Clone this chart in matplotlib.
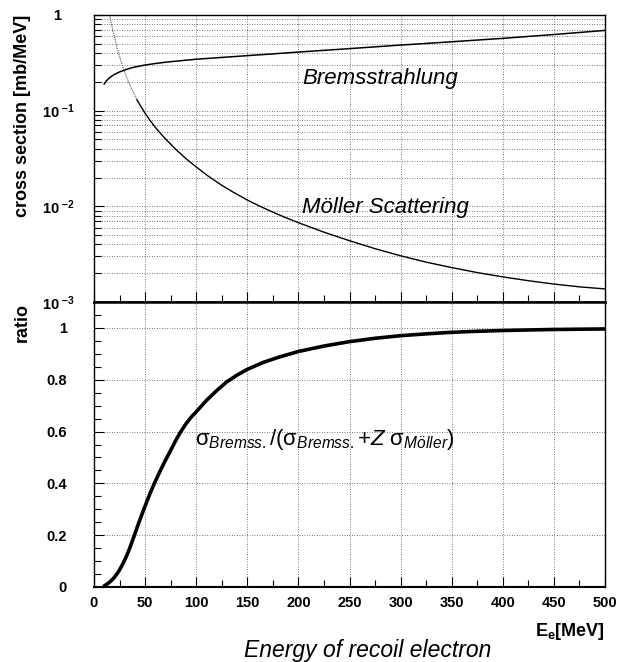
import matplotlib
matplotlib.use('Agg')
import matplotlib.pyplot as plt
from matplotlib.ticker import FixedLocator, FixedFormatter, MultipleLocator, NullFormatter, LogLocator
import numpy as np

plt.rcParams['font.family'] = ['Liberation Sans', 'DejaVu Sans']
plt.rcParams['mathtext.fontset'] = 'custom'
plt.rcParams['mathtext.rm'] = 'Liberation Sans'
plt.rcParams['mathtext.it'] = 'Liberation Sans:italic'
plt.rcParams['mathtext.bf'] = 'Liberation Sans:bold'

# ---------------- data ----------------
E_brems = [10, 12, 14, 17, 20, 25, 30, 35, 40, 50, 60, 70, 80, 90, 100, 125, 150,
           175, 200, 250, 300, 350, 400, 450, 500]
sigma_brems = [0.19, 0.204, 0.215, 0.228, 0.239, 0.254, 0.266, 0.277, 0.286, 0.30,
               0.311, 0.321, 0.329, 0.337, 0.345, 0.36, 0.376, 0.392, 0.41, 0.445,
               0.485, 0.525, 0.57, 0.625, 0.69]

E_moller = [15, 17, 19, 21, 23, 25, 27, 29, 32, 35, 38, 42, 46, 50, 55, 60, 65, 70,
            80, 90, 100, 112, 125, 137, 150, 162, 175, 187, 200, 225, 250, 275, 300,
            325, 350, 375, 400, 425, 450, 475, 500]
sigma_moller = [1.044, 0.813, 0.651, 0.533, 0.440, 0.368, 0.314, 0.271, 0.223, 0.187,
                0.159, 0.130, 0.110, 0.094, 0.0787, 0.0669, 0.058, 0.0506, 0.0394,
                0.0315, 0.0258, 0.0206, 0.0166, 0.0139, 0.01164, 0.01006, 0.00869,
                0.00766, 0.00675, 0.00537, 0.00437, 0.00361, 0.00304, 0.00261,
                0.00229, 0.00203, 0.00183, 0.00167, 0.00154, 0.00144, 0.00137]

E_ratio = [10, 13, 16, 19, 22, 25, 28, 31, 34, 37, 40, 44, 48, 52, 56, 60, 65, 70,
           75, 80, 85, 90, 95, 100, 110, 120, 130, 140, 150, 165, 180, 200, 225, 250,
           275, 300, 325, 350, 375, 400, 425, 450, 475, 500]
ratio = [0.004, 0.012, 0.021, 0.033, 0.048, 0.066, 0.088, 0.112, 0.140, 0.172, 0.205,
         0.250, 0.292, 0.333, 0.372, 0.408, 0.450, 0.490, 0.527, 0.566, 0.600, 0.630,
         0.655, 0.676, 0.720, 0.758, 0.792, 0.818, 0.840, 0.866, 0.886, 0.909, 0.930,
         0.947, 0.960, 0.970, 0.977, 0.983, 0.987, 0.990, 0.992, 0.994, 0.995, 0.996]

x_ticks = [0, 50, 100, 150, 200, 250, 300, 350, 400, 450, 500]
x_tick_labels = ['0', '50', '100', '150', '200', '250', '300', '350', '400', '450', '500']
log_ticks = [1e-3, 1e-2, 1e-1, 1]
log_tick_labels = [r'$\mathbf{10}\;{}^{\mathbf{-3}}$', r'$\mathbf{10}\;{}^{\mathbf{-2}}$',
                   r'$\mathbf{10}\;{}^{\mathbf{-1}}$', r'$\mathbf{1}$    ']
ratio_ticks = [0, 0.2, 0.4, 0.6, 0.8, 1.0]
ratio_tick_labels = ['0', '0.2', '0.4', '0.6', '0.8', '1']

# ---------------- layout ----------------
W, H = 617, 662
fig = plt.figure(figsize=(W / 100, H / 100), dpi=100)

def fx(px):
    return px / W

def fy(py):
    return 1 - py / H

L, R = 94, 605
T1, B1 = 15, 302
T2, B2 = 302, 587
ax1 = fig.add_axes([fx(L), fy(B1), (R - L) / W, (B1 - T1) / H])
ax2 = fig.add_axes([fx(L), fy(B2), (R - L) / W, (B2 - T2) / H])

grid_kw = dict(color='0.3', linestyle=(0, (1, 2)), linewidth=0.6)

# ---------- top panel ----------
ax1.set_yscale('log')
ax1.set_xlim(0, 500)
ax1.set_ylim(1e-3, 1)
ax1.xaxis.set_major_locator(FixedLocator(x_ticks))
ax1.xaxis.set_minor_locator(MultipleLocator(25))
ax1.xaxis.set_major_formatter(NullFormatter())
ax1.yaxis.set_major_locator(FixedLocator(log_ticks))
ax1.yaxis.set_major_formatter(FixedFormatter(log_tick_labels))
ax1.yaxis.set_minor_locator(LogLocator(base=10, subs=np.arange(2, 10)))
ax1.yaxis.set_minor_formatter(NullFormatter())
ax1.grid(True, which='major', axis='both', **grid_kw)
ax1.grid(True, which='minor', axis='y', **grid_kw)
ax1.tick_params(which='both', direction='in', top=False, right=False, width=0.8)
ax1.tick_params(which='major', length=7)
ax1.tick_params(which='minor', length=5)
ax1.tick_params(axis='y', which='major', labelsize=10.5, pad=13.5)
for sp in ax1.spines.values():
    sp.set_linewidth(1.0)
ax1.spines['bottom'].set_linewidth(1.8)

ax1.plot(E_brems, sigma_brems, color='black', lw=1.1)
k = E_moller.index(42)
ax1.plot(E_moller[:k + 1], sigma_moller[:k + 1], color='0.3', lw=0.8, ls=(0, (1, 1)))
ax1.plot(E_moller[k:], sigma_moller[k:], color='black', lw=1.0)

# ---------- bottom panel ----------
ax2.set_xlim(0, 500)
ax2.set_ylim(0, 1.1)
ax2.xaxis.set_major_locator(FixedLocator(x_ticks))
ax2.xaxis.set_major_formatter(FixedFormatter(x_tick_labels))
ax2.xaxis.set_minor_locator(MultipleLocator(25))
ax2.yaxis.set_major_locator(FixedLocator(ratio_ticks))
ax2.yaxis.set_major_formatter(FixedFormatter(ratio_tick_labels))
ax2.yaxis.set_minor_locator(MultipleLocator(0.05))
ax2.grid(True, which='major', axis='both', **grid_kw)
ax2.tick_params(which='both', direction='in', top=False, right=False, width=0.8)
ax2.tick_params(which='major', length=7)
ax2.tick_params(which='minor', length=5)
ax2.tick_params(axis='y', which='major', labelsize=10.5, pad=19.5)
ax2.tick_params(axis='x', which='major', labelsize=10.5, pad=6.5)
for lab in ax2.get_xticklabels() + ax2.get_yticklabels():
    lab.set_fontweight('bold')
for sp in ax2.spines.values():
    sp.set_linewidth(1.0)
ax2.spines['top'].set_linewidth(1.8)
ax2.spines['bottom'].set_linewidth(1.5)

ax2.plot(E_ratio, ratio, color='black', lw=2.6, solid_capstyle='round',
         solid_joinstyle='round')

# ---------- texts ----------
fig.text(fx(302), fy(84), 'Bremsstrahlung', fontsize=16, style='italic',
         ha='left', va='baseline')
fig.text(fx(302), fy(213), 'Möller Scattering', fontsize=16, style='italic',
         ha='left', va='baseline')
fig.text(fx(195), fy(445),
         r'$\mathrm{σ}_{\mathit{Bremss.}}\mathit{/(}\mathrm{σ}_{\mathit{Bremss.}}'
         r'\mathit{+Z}\ \mathrm{σ}_{\mathit{Möller}}\mathit{)}$',
         fontsize=16, ha='left', va='baseline')

fig.text(fx(22.5), fy(15), 'cross section [mb/MeV]', rotation=90, fontsize=13,
         fontweight='bold', ha='center', va='top')
fig.text(fx(22.5), fy(303), 'ratio', rotation=90, fontsize=13,
         fontweight='bold', ha='center', va='top')
fig.text(fx(605), fy(636), r'$\mathbf{E_{e}[MeV]}$', fontsize=13,
         ha='right', va='baseline')
fig.text(fx(368), fy(657), 'Energy of recoil electron', fontsize=16.5,
         style='italic', ha='center', va='baseline')

fig.savefig('out.png', dpi=100)
